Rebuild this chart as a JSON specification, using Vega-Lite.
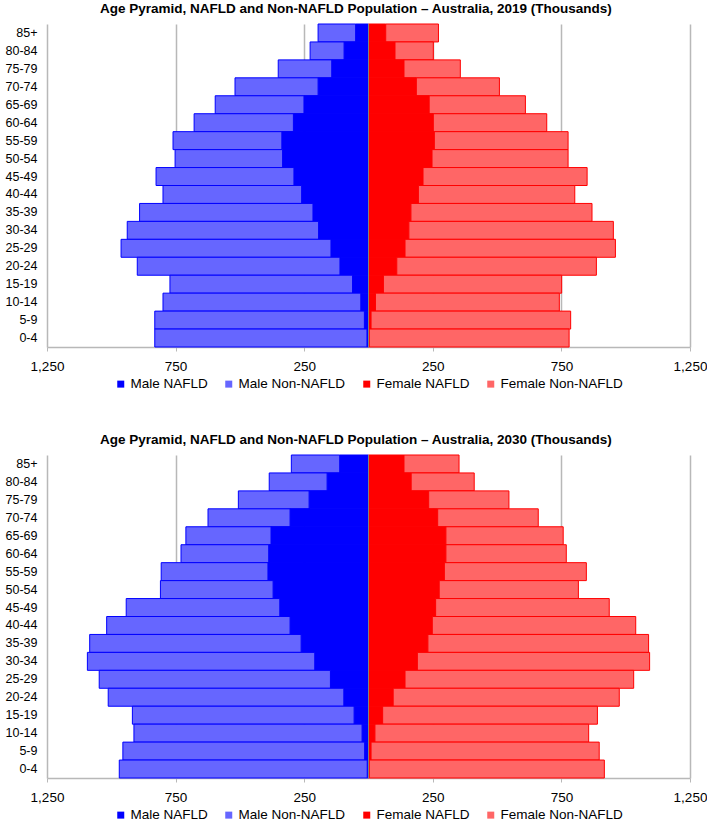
{
  "$schema": "https://vega.github.io/schema/vega-lite/v6.json",
  "padding": {"left": 5, "right": 0, "top": 2, "bottom": 0},
  "config": {
    "font": "Liberation Sans",
    "view": {"stroke": null},
    "title": {"fontSize": 13.5, "fontWeight": "bold", "color": "#000000", "anchor": "middle", "frame": "bounds", "offset": 8},
    "axis": {"labelFontSize": 12.5, "labelColor": "#000000", "domainColor": "#b8b8b8", "gridColor": "#b8b8b8", "tickColor": "#b8b8b8", "gridWidth": 1.5, "domainWidth": 1.5},
    "legend": {"layout": {"bottom": {"anchor": "middle"}}}
  },
  "spacing": 42,
  "resolve": {"legend": {"color": "independent"}},
  "datasets": {
    "y2019": [
      {"age": "85+", "group": "Male NAFLD", "value": -50}, {"age": "85+", "group": "Male Non-NAFLD", "value": -146}, {"age": "85+", "group": "Female NAFLD", "value": 67}, {"age": "85+", "group": "Female Non-NAFLD", "value": 205},
      {"age": "80-84", "group": "Male NAFLD", "value": -95}, {"age": "80-84", "group": "Male Non-NAFLD", "value": -132}, {"age": "80-84", "group": "Female NAFLD", "value": 103}, {"age": "80-84", "group": "Female Non-NAFLD", "value": 149},
      {"age": "75-79", "group": "Male NAFLD", "value": -143}, {"age": "75-79", "group": "Male Non-NAFLD", "value": -208}, {"age": "75-79", "group": "Female NAFLD", "value": 138}, {"age": "75-79", "group": "Female Non-NAFLD", "value": 219},
      {"age": "70-74", "group": "Male NAFLD", "value": -196}, {"age": "70-74", "group": "Male Non-NAFLD", "value": -323}, {"age": "70-74", "group": "Female NAFLD", "value": 186}, {"age": "70-74", "group": "Female Non-NAFLD", "value": 323},
      {"age": "65-69", "group": "Male NAFLD", "value": -251}, {"age": "65-69", "group": "Male Non-NAFLD", "value": -345}, {"age": "65-69", "group": "Female NAFLD", "value": 236}, {"age": "65-69", "group": "Female Non-NAFLD", "value": 374},
      {"age": "60-64", "group": "Male NAFLD", "value": -292}, {"age": "60-64", "group": "Male Non-NAFLD", "value": -386}, {"age": "60-64", "group": "Female NAFLD", "value": 252}, {"age": "60-64", "group": "Female Non-NAFLD", "value": 441},
      {"age": "55-59", "group": "Male NAFLD", "value": -337}, {"age": "55-59", "group": "Male Non-NAFLD", "value": -423}, {"age": "55-59", "group": "Female NAFLD", "value": 256}, {"age": "55-59", "group": "Female Non-NAFLD", "value": 520},
      {"age": "50-54", "group": "Male NAFLD", "value": -334}, {"age": "50-54", "group": "Male Non-NAFLD", "value": -418}, {"age": "50-54", "group": "Female NAFLD", "value": 247}, {"age": "50-54", "group": "Female Non-NAFLD", "value": 529},
      {"age": "45-49", "group": "Male NAFLD", "value": -290}, {"age": "45-49", "group": "Male Non-NAFLD", "value": -536}, {"age": "45-49", "group": "Female NAFLD", "value": 212}, {"age": "45-49", "group": "Female Non-NAFLD", "value": 638},
      {"age": "40-44", "group": "Male NAFLD", "value": -260}, {"age": "40-44", "group": "Male Non-NAFLD", "value": -539}, {"age": "40-44", "group": "Female NAFLD", "value": 194}, {"age": "40-44", "group": "Female Non-NAFLD", "value": 608},
      {"age": "35-39", "group": "Male NAFLD", "value": -216}, {"age": "35-39", "group": "Male Non-NAFLD", "value": -674}, {"age": "35-39", "group": "Female NAFLD", "value": 165}, {"age": "35-39", "group": "Female Non-NAFLD", "value": 704},
      {"age": "30-34", "group": "Male NAFLD", "value": -194}, {"age": "30-34", "group": "Male Non-NAFLD", "value": -744}, {"age": "30-34", "group": "Female NAFLD", "value": 157}, {"age": "30-34", "group": "Female Non-NAFLD", "value": 795},
      {"age": "25-29", "group": "Male NAFLD", "value": -146}, {"age": "25-29", "group": "Male Non-NAFLD", "value": -816}, {"age": "25-29", "group": "Female NAFLD", "value": 142}, {"age": "25-29", "group": "Female Non-NAFLD", "value": 818},
      {"age": "20-24", "group": "Male NAFLD", "value": -111}, {"age": "20-24", "group": "Male Non-NAFLD", "value": -788}, {"age": "20-24", "group": "Female NAFLD", "value": 110}, {"age": "20-24", "group": "Female Non-NAFLD", "value": 776},
      {"age": "15-19", "group": "Male NAFLD", "value": -62}, {"age": "15-19", "group": "Male Non-NAFLD", "value": -710}, {"age": "15-19", "group": "Female NAFLD", "value": 58}, {"age": "15-19", "group": "Female Non-NAFLD", "value": 693},
      {"age": "10-14", "group": "Male NAFLD", "value": -30}, {"age": "10-14", "group": "Male Non-NAFLD", "value": -769}, {"age": "10-14", "group": "Female NAFLD", "value": 27}, {"age": "10-14", "group": "Female Non-NAFLD", "value": 715},
      {"age": "5-9", "group": "Male NAFLD", "value": -16}, {"age": "5-9", "group": "Male Non-NAFLD", "value": -815}, {"age": "5-9", "group": "Female NAFLD", "value": 10}, {"age": "5-9", "group": "Female Non-NAFLD", "value": 776},
      {"age": "0-4", "group": "Male NAFLD", "value": -6}, {"age": "0-4", "group": "Male Non-NAFLD", "value": -825}, {"age": "0-4", "group": "Female NAFLD", "value": 3}, {"age": "0-4", "group": "Female Non-NAFLD", "value": 777}
    ],
    "y2030": [
      {"age": "85+", "group": "Male NAFLD", "value": -112}, {"age": "85+", "group": "Male Non-NAFLD", "value": -188}, {"age": "85+", "group": "Female NAFLD", "value": 138}, {"age": "85+", "group": "Female Non-NAFLD", "value": 214},
      {"age": "80-84", "group": "Male NAFLD", "value": -161}, {"age": "80-84", "group": "Male Non-NAFLD", "value": -225}, {"age": "80-84", "group": "Female NAFLD", "value": 166}, {"age": "80-84", "group": "Female Non-NAFLD", "value": 245},
      {"age": "75-79", "group": "Male NAFLD", "value": -231}, {"age": "75-79", "group": "Male Non-NAFLD", "value": -275}, {"age": "75-79", "group": "Female NAFLD", "value": 234}, {"age": "75-79", "group": "Female Non-NAFLD", "value": 312},
      {"age": "70-74", "group": "Male NAFLD", "value": -305}, {"age": "70-74", "group": "Male Non-NAFLD", "value": -319}, {"age": "70-74", "group": "Female NAFLD", "value": 269}, {"age": "70-74", "group": "Female Non-NAFLD", "value": 391},
      {"age": "65-69", "group": "Male NAFLD", "value": -379}, {"age": "65-69", "group": "Male Non-NAFLD", "value": -331}, {"age": "65-69", "group": "Female NAFLD", "value": 301}, {"age": "65-69", "group": "Female Non-NAFLD", "value": 456},
      {"age": "60-64", "group": "Male NAFLD", "value": -388}, {"age": "60-64", "group": "Male Non-NAFLD", "value": -341}, {"age": "60-64", "group": "Female NAFLD", "value": 301}, {"age": "60-64", "group": "Female Non-NAFLD", "value": 468},
      {"age": "55-59", "group": "Male NAFLD", "value": -391}, {"age": "55-59", "group": "Male Non-NAFLD", "value": -415}, {"age": "55-59", "group": "Female NAFLD", "value": 295}, {"age": "55-59", "group": "Female Non-NAFLD", "value": 552},
      {"age": "50-54", "group": "Male NAFLD", "value": -371}, {"age": "50-54", "group": "Male Non-NAFLD", "value": -438}, {"age": "50-54", "group": "Female NAFLD", "value": 275}, {"age": "50-54", "group": "Female Non-NAFLD", "value": 541},
      {"age": "45-49", "group": "Male NAFLD", "value": -345}, {"age": "45-49", "group": "Male Non-NAFLD", "value": -597}, {"age": "45-49", "group": "Female NAFLD", "value": 261}, {"age": "45-49", "group": "Female Non-NAFLD", "value": 675},
      {"age": "40-44", "group": "Male NAFLD", "value": -305}, {"age": "40-44", "group": "Male Non-NAFLD", "value": -713}, {"age": "40-44", "group": "Female NAFLD", "value": 248}, {"age": "40-44", "group": "Female Non-NAFLD", "value": 791},
      {"age": "35-39", "group": "Male NAFLD", "value": -262}, {"age": "35-39", "group": "Male Non-NAFLD", "value": -822}, {"age": "35-39", "group": "Female NAFLD", "value": 231}, {"age": "35-39", "group": "Female Non-NAFLD", "value": 858},
      {"age": "30-34", "group": "Male NAFLD", "value": -209}, {"age": "30-34", "group": "Male Non-NAFLD", "value": -884}, {"age": "30-34", "group": "Female NAFLD", "value": 190}, {"age": "30-34", "group": "Female Non-NAFLD", "value": 903},
      {"age": "25-29", "group": "Male NAFLD", "value": -148}, {"age": "25-29", "group": "Male Non-NAFLD", "value": -899}, {"age": "25-29", "group": "Female NAFLD", "value": 142}, {"age": "25-29", "group": "Female Non-NAFLD", "value": 889},
      {"age": "20-24", "group": "Male NAFLD", "value": -96}, {"age": "20-24", "group": "Male Non-NAFLD", "value": -916}, {"age": "20-24", "group": "Female NAFLD", "value": 96}, {"age": "20-24", "group": "Female Non-NAFLD", "value": 879},
      {"age": "15-19", "group": "Male NAFLD", "value": -56}, {"age": "15-19", "group": "Male Non-NAFLD", "value": -862}, {"age": "15-19", "group": "Female NAFLD", "value": 55}, {"age": "15-19", "group": "Female Non-NAFLD", "value": 835},
      {"age": "10-14", "group": "Male NAFLD", "value": -25}, {"age": "10-14", "group": "Male Non-NAFLD", "value": -887}, {"age": "10-14", "group": "Female NAFLD", "value": 25}, {"age": "10-14", "group": "Female Non-NAFLD", "value": 831},
      {"age": "5-9", "group": "Male NAFLD", "value": -15}, {"age": "5-9", "group": "Male Non-NAFLD", "value": -940}, {"age": "5-9", "group": "Female NAFLD", "value": 10}, {"age": "5-9", "group": "Female Non-NAFLD", "value": 887},
      {"age": "0-4", "group": "Male NAFLD", "value": -5}, {"age": "0-4", "group": "Male Non-NAFLD", "value": -964}, {"age": "0-4", "group": "Female NAFLD", "value": 3}, {"age": "0-4", "group": "Female Non-NAFLD", "value": 914}
    ]
  },
  "vconcat": [
    {
      "title": "Age Pyramid, NAFLD and Non-NAFLD Population – Australia, 2019 (Thousands)",
      "width": 643,
      "height": 323,
      "data": {"name": "y2019"},
      "layer": [
        {
          "mark": {"type": "bar", "strokeWidth": 1},
          "encoding": {
            "y": {"field": "age", "type": "nominal", "sort": ["85+", "80-84", "75-79", "70-74", "65-69", "60-64", "55-59", "50-54", "45-49", "40-44", "35-39", "30-34", "25-29", "20-24", "15-19", "10-14", "5-9", "0-4"], "scale": {"paddingInner": 0, "paddingOuter": 0}, "axis": {"title": null, "ticks": false, "domain": false, "labelPadding": 10}},
            "x": {"field": "value", "type": "quantitative", "stack": "zero", "scale": {"domain": [-1250, 1250], "nice": false, "zero": false}, "axis": {"title": null, "values": [-1250, -750, -250, 250, 750, 1250], "labelExpr": "format(abs(datum.value), ',')", "grid": true, "tickSize": 4, "labelPadding": 8, "labelFlush": false, "labelFontSize": 13.5}},
            "color": {"field": "group", "type": "nominal", "sort": ["Male NAFLD", "Male Non-NAFLD", "Female NAFLD", "Female Non-NAFLD"], "scale": {"domain": ["Male NAFLD", "Male Non-NAFLD", "Female NAFLD", "Female Non-NAFLD"], "range": ["#0000FF", "#6666FF", "#FF0000", "#FF6666"]}, "legend": {"orient": "bottom", "direction": "horizontal", "title": null, "symbolType": "square", "symbolSize": 49, "labelFontSize": 13.5, "columnPadding": 14, "labelOffset": 3, "offset": 4}},
            "stroke": {"field": "group", "type": "nominal", "scale": {"domain": ["Male NAFLD", "Male Non-NAFLD", "Female NAFLD", "Female Non-NAFLD"], "range": ["#0000FF", "#0000FF", "#FF0000", "#FF0000"]}, "legend": null},
            "order": {"field": "group", "sort": "ascending"}
          }
        },
        {
          "data": {"values": [{}]},
          "mark": {"type": "rule", "color": "#808080", "strokeWidth": 1},
          "encoding": {"x": {"datum": 0}}
        }
      ]
    },
    {
      "title": "Age Pyramid, NAFLD and Non-NAFLD Population – Australia, 2030 (Thousands)",
      "width": 643,
      "height": 323,
      "data": {"name": "y2030"},
      "layer": [
        {
          "mark": {"type": "bar", "strokeWidth": 1},
          "encoding": {
            "y": {"field": "age", "type": "nominal", "sort": ["85+", "80-84", "75-79", "70-74", "65-69", "60-64", "55-59", "50-54", "45-49", "40-44", "35-39", "30-34", "25-29", "20-24", "15-19", "10-14", "5-9", "0-4"], "scale": {"paddingInner": 0, "paddingOuter": 0}, "axis": {"title": null, "ticks": false, "domain": false, "labelPadding": 10}},
            "x": {"field": "value", "type": "quantitative", "stack": "zero", "scale": {"domain": [-1250, 1250], "nice": false, "zero": false}, "axis": {"title": null, "values": [-1250, -750, -250, 250, 750, 1250], "labelExpr": "format(abs(datum.value), ',')", "grid": true, "tickSize": 4, "labelPadding": 8, "labelFlush": false, "labelFontSize": 13.5}},
            "color": {"field": "group", "type": "nominal", "sort": ["Male NAFLD", "Male Non-NAFLD", "Female NAFLD", "Female Non-NAFLD"], "scale": {"domain": ["Male NAFLD", "Male Non-NAFLD", "Female NAFLD", "Female Non-NAFLD"], "range": ["#0000FF", "#6666FF", "#FF0000", "#FF6666"]}, "legend": {"orient": "bottom", "direction": "horizontal", "title": null, "symbolType": "square", "symbolSize": 49, "labelFontSize": 13.5, "columnPadding": 14, "labelOffset": 3, "offset": 4}},
            "stroke": {"field": "group", "type": "nominal", "scale": {"domain": ["Male NAFLD", "Male Non-NAFLD", "Female NAFLD", "Female Non-NAFLD"], "range": ["#0000FF", "#0000FF", "#FF0000", "#FF0000"]}, "legend": null},
            "order": {"field": "group", "sort": "ascending"}
          }
        },
        {
          "data": {"values": [{}]},
          "mark": {"type": "rule", "color": "#808080", "strokeWidth": 1},
          "encoding": {"x": {"datum": 0}}
        }
      ]
    }
  ]
}
